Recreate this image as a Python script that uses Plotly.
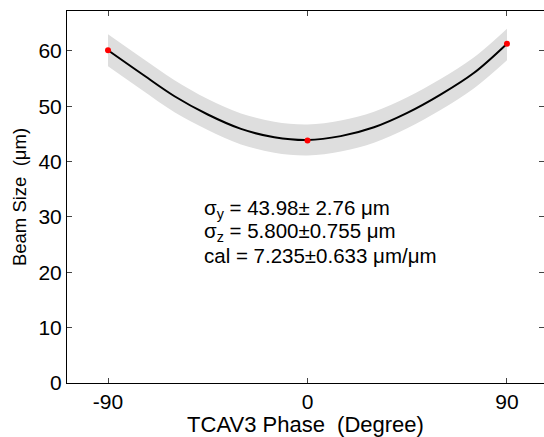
import plotly.graph_objects as go

# Data
phase = [-90, -75, -60, -45, -30, -15, 0, 15, 30, 45, 60, 75, 90]
beam_size = [60.1, 55.9, 51.8, 48.5, 45.9, 44.4, 43.9, 44.6, 46.2, 48.8, 52.1, 56.0, 61.3]
upper = [63.0, 58.8, 54.7, 51.3, 48.7, 47.2, 46.7, 47.4, 49.0, 51.6, 54.9, 58.8, 64.0]
lower = [57.2, 53.0, 48.9, 45.7, 43.1, 41.6, 41.1, 41.8, 43.4, 46.0, 49.3, 53.2, 58.3]
meas_phase = [-90, 0, 90]
meas_size = [60.1, 43.8, 61.3]
x_ticks = [-90, 0, 90]
x_tick_text = ["-90", "0", "90"]
y_ticks = [0, 10, 20, 30, 40, 50, 60]
fit_text = [
    "σ<sub>y</sub> = 43.98± 2.76 μm",
    "σ<sub>z</sub> = 5.800±0.755 μm",
    "cal = 7.235±0.633 μm/μm",
]

FONT = "Liberation Sans, Arial, sans-serif"

fig = go.Figure()
fig.add_trace(go.Scatter(x=phase, y=lower, mode="lines", line=dict(width=0, shape="spline"),
                         hoverinfo="skip", showlegend=False))
fig.add_trace(go.Scatter(x=phase, y=upper, mode="lines", line=dict(width=0, shape="spline"),
                         fill="tonexty", fillcolor="#dedede", hoverinfo="skip", showlegend=False))
fig.add_trace(go.Scatter(x=phase, y=beam_size, mode="lines",
                         line=dict(color="black", width=2, shape="spline"), showlegend=False))
fig.add_trace(go.Scatter(x=meas_phase, y=meas_size, mode="markers",
                         marker=dict(color="red", size=6), showlegend=False))
# invisible trace for the right-side tick axis
fig.add_trace(go.Scatter(x=[0], y=[0], yaxis="y2", mode="markers",
                         marker=dict(opacity=0), hoverinfo="skip", showlegend=False))

for i, t in enumerate(fit_text):
    fig.add_annotation(x=-47.5, y=31.4 - i * 4.2, xref="x", yref="y", text=t,
                       showarrow=False, xanchor="left", yanchor="middle",
                       font=dict(family=FONT, size=20.5, color="black"))

fig.update_layout(
    width=544, height=437,
    margin=dict(l=67, r=0, t=11, b=54),
    paper_bgcolor="white", plot_bgcolor="white",
    font=dict(family=FONT, size=21, color="black"),
    xaxis=dict(range=[-108.5, 106.7], tickvals=x_ticks, ticktext=x_tick_text,
               ticks="inside", ticklen=5,
               showline=True, linecolor="black", linewidth=1, mirror="ticks",
               showgrid=False, zeroline=False,
               title=dict(text="TCAV3 Phase  (Degree)", standoff=3,
                          font=dict(family=FONT, size=22))),
    yaxis=dict(range=[0, 67.2], tickvals=y_ticks, ticks="inside", ticklen=5,
               showline=True, linecolor="black", linewidth=1,
               showgrid=False, zeroline=False,
               title=dict(text="Beam Size  (μm)", standoff=6,
                          font=dict(family=FONT, size=18.5))),
    yaxis2=dict(range=[0, 67.2], tickvals=y_ticks, ticks="inside", ticklen=5,
                overlaying="y", side="right", showline=False, showticklabels=False,
                showgrid=False, zeroline=False),
)

fig.write_html("out.html")
